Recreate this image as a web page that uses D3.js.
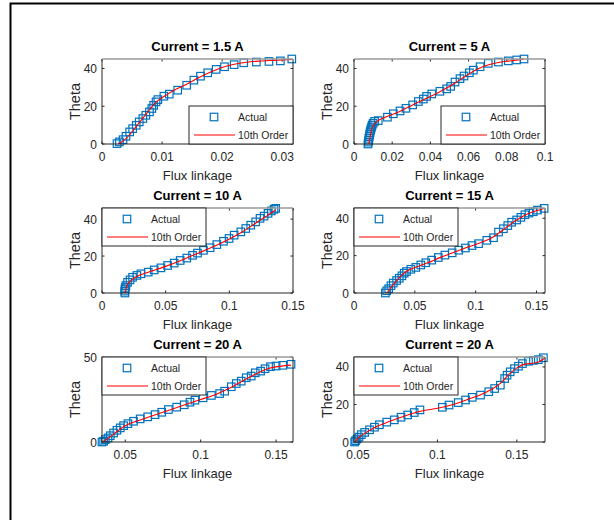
<!DOCTYPE html>
<html>
<head>
<meta charset="utf-8">
<script src="https://cdn.jsdelivr.net/npm/d3@7"></script>
<style>
  body { margin: 0; background: white; }
  text { font-family: "Liberation Sans", Arial, sans-serif; }
</style>
</head>
<body>
<div id="main_content"></div>
<script>
var width = 614, height = 520;

// 1.5 A
var flux15 = [0.0025,0.0029,0.0035,0.0040,0.0046,0.0051,0.0057,0.0062,0.0068,0.0073,0.0079,0.0083,0.0086,0.0090,0.0093,0.0103,0.0112,0.0126,0.0141,0.0153,0.0164,0.0176,0.0190,0.0204,0.0220,0.0236,0.0257,0.0278,0.0297,0.0316];
var theta15 = [0.2,1.1,2.3,4.1,6.4,8.1,9.9,11.7,13.5,15.2,17.0,18.8,20.5,22.3,23.5,25.3,26.4,28.5,31.1,33.8,35.9,37.7,39.5,40.9,42.0,43.0,43.4,43.7,44.0,45.0];
var fitFlux15 = [0.0027,0.0035,0.0045,0.0055,0.0065,0.0075,0.0085,0.0095,0.0105,0.012,0.014,0.016,0.018,0.020,0.022,0.024,0.026,0.028,0.030,0.0316];
var fitTheta15 = [0,1.5,4.5,8.5,12.5,16.5,20.5,23.5,25.5,28.5,31.5,35,38,40.5,42.2,43.3,43.9,44.2,44.5,44.8];

// 5 A
var flux5 = [0.0073,0.0075,0.0077,0.0078,0.0080,0.0082,0.0084,0.0086,0.0089,0.0092,0.0095,0.0100,0.0108,0.0127,0.0175,0.0206,0.0241,0.0272,0.0307,0.0337,0.0363,0.0380,0.0407,0.0450,0.0485,0.0506,0.0529,0.0555,0.0576,0.0604,0.0625,0.0660,0.0703,0.0756,0.0808,0.0852,0.0890];
var theta5 = [0,1,2,3,4,5,6,7,8,9,10,11,12,12.4,14.2,16.0,17.5,18.9,20.7,22.5,23.8,25.2,26.5,27.9,29.2,30.5,32.8,34.6,36.0,37.7,39.1,40.9,42.7,43.4,44.0,44.5,45.0];
var fitFlux5 = [0.0078,0.0085,0.0092,0.0100,0.0110,0.0125,0.015,0.020,0.025,0.030,0.035,0.040,0.045,0.050,0.055,0.060,0.065,0.070,0.075,0.080,0.085,0.089];
var fitTheta5 = [0,4,7.5,9.5,11,12.3,13.6,15.6,17.8,20.3,22.8,25.2,27.7,30.4,33.7,37,39.8,41.8,43,43.8,44.4,45];

// 10 A
var flux10 = [0.0180,0.0179,0.0180,0.0184,0.0188,0.0201,0.0220,0.0240,0.0274,0.0306,0.0363,0.0410,0.0463,0.0515,0.0567,0.0614,0.0666,0.0711,0.0750,0.0797,0.0849,0.0902,0.0954,0.0998,0.1038,0.1090,0.1129,0.1168,0.1207,0.1241,0.1273,0.1304,0.1330,0.1351,0.1364];
var theta10 = [0,1.0,2.2,3.0,4.0,5.8,7.1,8.5,9.5,10.4,11.3,12.5,13.6,14.9,16.2,17.6,18.9,20.4,21.6,23.1,24.5,26.2,28.0,29.5,31.3,33.1,34.9,36.7,38.5,40.4,41.6,43.1,44.4,45.3,45.8];
var fitFlux10 = [0.0182,0.019,0.020,0.0225,0.025,0.030,0.035,0.040,0.050,0.060,0.070,0.080,0.090,0.100,0.110,0.120,0.125,0.130,0.1364];
var fitTheta10 = [0,2.8,4.5,6.6,8,9.8,11,12.1,14.4,17,20,22.8,25.8,29.2,33,37.5,39.8,42,45];

// 15 A
var flux15A = [0.0258,0.0269,0.0285,0.0304,0.0323,0.0350,0.0372,0.0394,0.0413,0.0432,0.0467,0.0508,0.0549,0.0590,0.0639,0.0693,0.0747,0.0807,0.0861,0.0916,0.0970,0.1024,0.1092,0.1147,0.1188,0.1228,0.1264,0.1296,0.1337,0.1372,0.1405,0.1438,0.1473,0.1508,0.1563];
var theta15A = [0,1.2,2.3,3.9,5.3,6.7,7.9,9.2,10.6,11.5,12.7,13.7,15.0,16.2,17.6,19.0,20.3,21.5,22.9,24.1,25.4,26.4,28.2,29.6,32.6,34.4,36.1,37.9,39.1,40.5,41.9,42.8,43.5,44.4,45.3];
var fitFlux15A = [0.027,0.030,0.035,0.040,0.045,0.050,0.060,0.070,0.080,0.090,0.100,0.110,0.115,0.120,0.125,0.130,0.135,0.140,0.145,0.150,0.156];
var fitTheta15A = [0,2.5,6.5,10,12.3,13.6,16,18.8,21.3,23.7,26,28.5,30.2,32.5,35,37.5,39.6,41.5,43,44,45.3];

// 20 A (first)
var flux20a = [0.0346,0.0357,0.0368,0.0386,0.0401,0.0423,0.0445,0.0467,0.0489,0.0518,0.0555,0.0599,0.0649,0.0698,0.0742,0.0786,0.0841,0.0891,0.0929,0.0962,0.1016,0.1071,0.1126,0.1159,0.1203,0.1236,0.1269,0.1302,0.1335,0.1362,0.1397,0.1427,0.1463,0.1500,0.1544,0.1599];
var theta20a = [0,0.4,1.4,2.4,3.7,5.3,6.9,8.3,9.6,10.8,12.2,13.6,14.8,16.1,17.5,19.1,20.5,21.9,23.4,24.6,26.0,27.4,28.5,29.9,32.5,34.4,35.8,37.8,38.8,40.7,41.7,43.1,44.3,44.7,45.1,45.7];
var fitFlux20a = [0.0348,0.040,0.045,0.050,0.060,0.070,0.080,0.090,0.100,0.110,0.120,0.125,0.130,0.135,0.140,0.145,0.150,0.155,0.1599];
var fitTheta20a = [0,3,6.5,9.5,13,16,19,22,25,28,32,34.5,37,39.3,41.5,43.2,44.2,44.8,45.2];

// 20 A (second)
var flux20b = [0.0479,0.0485,0.0494,0.0506,0.0521,0.0542,0.0573,0.0604,0.0635,0.0681,0.0729,0.0771,0.0813,0.0854,0.0890,0.1031,0.1073,0.1131,0.1177,0.1219,0.1271,0.1323,0.1360,0.1396,0.1423,0.1438,0.1458,0.1485,0.1510,0.1535,0.1573,0.1604,0.1635,0.1667];
var theta20b = [0,0.7,1.6,2.6,3.9,5.1,6.5,7.9,9.2,10.6,11.8,13.2,14.4,15.7,17.1,18.5,19.7,21.0,22.4,23.8,25.0,26.8,28.5,30.3,33.8,35.6,37.4,39.1,40.4,41.8,43.0,43.5,43.9,44.9];
var fitFlux20b = [0.048,0.050,0.055,0.060,0.070,0.080,0.090,0.100,0.110,0.120,0.130,0.135,0.140,0.145,0.150,0.155,0.160,0.164,0.1675];
var fitTheta20b = [0,2,5,7.5,11,14,16.5,18,20,23,26.3,28.5,31.5,36,39.5,41.5,42,42.8,44.6];

var titles = ['Current = 1.5 A', 'Current = 5 A', 'Current = 10 A', 'Current = 15 A', 'Current = 20 A', 'Current = 20 A'];
var xTicks = [[0, 0.01, 0.02, 0.03], [0, 0.02, 0.04, 0.06, 0.08, 0.1], [0, 0.05, 0.1, 0.15], [0, 0.05, 0.1, 0.15], [0.05, 0.1, 0.15], [0.05, 0.1, 0.15]];
var yTicks = [[0, 20, 40], [0, 20, 40], [0, 20, 40], [0, 20, 40], [0, 50], [0, 20, 40]];
var xLims = [[0, 0.0318], [0, 0.1], [0, 0.15], [0, 0.157], [0.0346, 0.1612], [0.0475, 0.1677]];
var yLims = [[0, 45], [0, 45], [0, 46], [0, 45.5], [0, 50], [0, 45.3]];
var legendPos = ['se', 'se', 'nw', 'nw', 'nw', 'nw'];

var panels = [
  {x: flux15, y: theta15, fx: fitFlux15, fy: fitTheta15},
  {x: flux5, y: theta5, fx: fitFlux5, fy: fitTheta5},
  {x: flux10, y: theta10, fx: fitFlux10, fy: fitTheta10},
  {x: flux15A, y: theta15A, fx: fitFlux15A, fy: fitTheta15A},
  {x: flux20a, y: theta20a, fx: fitFlux20a, fy: fitTheta20a},
  {x: flux20b, y: theta20b, fx: fitFlux20b, fy: fitTheta20b}
];

var colLeft = [102, 354], rowTop = [59, 208, 357];
var pw = 191, ph = 85;
var blue = '#0072BD', red = '#FF0000', axisColor = '#262626';

var svg = d3.select('#main_content').append('svg')
  .attr('width', width)
  .attr('height', height)
  .style('background', 'white');

// outer frame (left and top edges only visible)
svg.append('path')
  .attr('d', 'M10.5,520 L10.5,3.5 L614,3.5')
  .attr('fill', 'none')
  .attr('stroke', 'black')
  .attr('stroke-width', 2);

panels.forEach(function(p, i) {
  var left = colLeft[i % 2], top = rowTop[Math.floor(i / 2)];
  var g = svg.append('g').attr('transform', 'translate(' + left + ',' + top + ')');

  var x = d3.scaleLinear().domain(xLims[i]).range([0, pw]);
  var y = d3.scaleLinear().domain(yLims[i]).range([ph, 0]);

  // ticks inside, on all four sides
  xTicks[i].forEach(function(t) {
    g.append('line').attr('x1', x(t)).attr('x2', x(t)).attr('y1', ph).attr('y2', ph - 2.5)
      .attr('stroke', axisColor);
    g.append('line').attr('x1', x(t)).attr('x2', x(t)).attr('y1', 0).attr('y2', 2.5)
      .attr('stroke', axisColor);
    g.append('text').attr('x', x(t)).attr('y', ph + 17)
      .attr('text-anchor', 'middle').attr('font-size', 12).attr('fill', axisColor)
      .text(String(t));
  });
  yTicks[i].forEach(function(t) {
    g.append('line').attr('x1', 0).attr('x2', 2.5).attr('y1', y(t)).attr('y2', y(t))
      .attr('stroke', axisColor);
    g.append('line').attr('x1', pw).attr('x2', pw - 2.5).attr('y1', y(t)).attr('y2', y(t))
      .attr('stroke', axisColor);
    g.append('text').attr('x', -5).attr('y', y(t) + 4.5)
      .attr('text-anchor', 'end').attr('font-size', 12).attr('fill', axisColor)
      .text(String(t));
  });

  // data markers
  var pts = p.x.map(function(v, k) { return [v, p.y[k]]; });
  g.selectAll('rect.pt')
    .data(pts)
    .enter().append('rect')
    .attr('class', 'pt')
    .attr('x', function(d) { return x(d[0]) - 3.75; })
    .attr('y', function(d) { return y(d[1]) - 3.75; })
    .attr('width', 7.5)
    .attr('height', 7.5)
    .attr('fill', 'none')
    .attr('stroke', blue)
    .attr('stroke-width', 1.2);

  // fitted curve
  var fit = p.fx.map(function(v, k) { return [v, p.fy[k]]; });
  var line = d3.line()
    .x(function(d) { return x(d[0]); })
    .y(function(d) { return y(d[1]); })
    .curve(d3.curveMonotoneX);
  g.append('path')
    .attr('d', line(fit))
    .attr('fill', 'none')
    .attr('stroke', red)
    .attr('stroke-width', 1.1);

  // axes box
  g.append('line').attr('x1', 0).attr('x2', 0).attr('y1', 0).attr('y2', ph).attr('stroke', axisColor);
  g.append('line').attr('x1', pw).attr('x2', pw).attr('y1', 0).attr('y2', ph).attr('stroke', axisColor);
  g.append('line').attr('x1', 0).attr('x2', pw).attr('y1', ph).attr('y2', ph).attr('stroke', axisColor);
  g.append('line').attr('x1', 0).attr('x2', pw).attr('y1', 0).attr('y2', 0)
    .attr('stroke', '#9a9a9a').attr('stroke-width', 1.5);

  // legend
  var lw = 104, lh = 38;
  var lx = legendPos[i] === 'se' ? pw - lw : 0;
  var ly = legendPos[i] === 'se' ? ph - lh : 0;
  var lg = g.append('g').attr('transform', 'translate(' + lx + ',' + ly + ')');
  lg.append('rect').attr('x', 0).attr('y', 0).attr('width', lw).attr('height', lh)
    .attr('fill', 'white').attr('stroke', axisColor).attr('stroke-width', 1);
  lg.append('rect').attr('x', 25 - 3.75).attr('y', 11 - 3.75).attr('width', 7.5).attr('height', 7.5)
    .attr('fill', 'none').attr('stroke', blue).attr('stroke-width', 1.2);
  lg.append('text').attr('x', 49).attr('y', 15).attr('font-size', 10.5).attr('fill', axisColor).text('Actual');
  lg.append('line').attr('x1', 5).attr('x2', 46).attr('y1', 29).attr('y2', 29)
    .attr('stroke', red).attr('stroke-width', 1.1);
  lg.append('text').attr('x', 49).attr('y', 33).attr('font-size', 10.5).attr('fill', axisColor).text('10th Order');

  // titles and labels
  g.append('text').attr('x', pw / 2).attr('y', -8)
    .attr('text-anchor', 'middle').attr('font-size', 13).attr('font-weight', 'bold')
    .attr('fill', 'black').text(titles[i]);
  g.append('text').attr('x', pw / 2).attr('y', ph + 36)
    .attr('text-anchor', 'middle').attr('font-size', 13).attr('fill', axisColor)
    .text('Flux linkage');
  g.append('text')
    .attr('transform', 'translate(-22,' + (ph / 2) + ') rotate(-90)')
    .attr('text-anchor', 'middle').attr('font-size', 14.5).attr('fill', axisColor)
    .text('Theta');
});
</script>
</body>
</html>
